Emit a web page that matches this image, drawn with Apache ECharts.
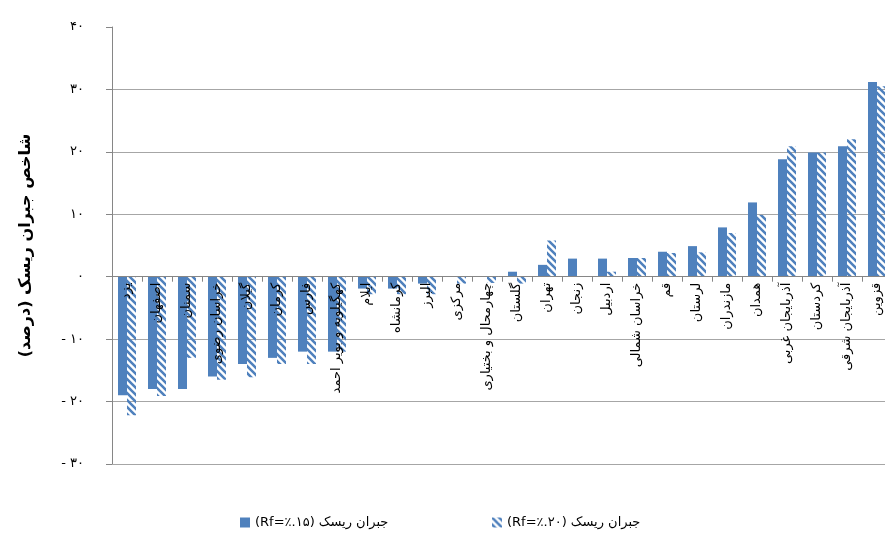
<!DOCTYPE html>
<html>
<head>
<meta charset="utf-8">
<script src="https://cdn.jsdelivr.net/npm/echarts@6/dist/echarts.min.js"></script>
<style>
  html, body { margin: 0; padding: 0; background: #fff; }
  #chart { width: 885px; height: 542px; }
</style>
</head>
<body>
<div id="chart"></div>
<script>
// provinces, sorted as in the source figure
const categories = ['یزد', 'اصفهان', 'سمنان', 'خراسان رضوی', 'گیلان', 'کرمان', 'فارس', 'کهگیلویه و بویر احمد',
  'ایلام', 'کرمانشاه', 'البرز', 'مرکزی', 'چهارمحال و بختیاری', 'گلستان', 'تهران', 'زنجان', 'اردبیل',
  'خراسان شمالی', 'قم', 'لرستان', 'مازندران', 'همدان', 'آذربایجان غربی', 'کردستان', 'آذربایجان شرقی', 'قزوین'];
const rf15 = [-19, -18, -18, -16, -14, -13, -12, -12, -1.9, -1.9, -1.1, 0, 0, 0.8, 1.9, 2.9, 2.9, 3, 4, 4.9, 7.9, 11.9, 18.8, 19.9, 20.9, 31.2];
const rf20 = [-22.2, -19.1, -13, -16.5, -16.1, -14, -14, -12, -2.8, -2.8, -2.8, -1.1, -1, -1.1, 5.8, 0, 0.8, 3, 3.8, 3.9, 7, 9.9, 20.9, 19.9, 22, 30.5];
const name15 = '(Rf=٪.۱۵) جبران ریسک';
const name20 = '(Rf=٪.۲۰) جبران ریسک';
const yTicks = { min: -30, max: 40, step: 10 };

const blue = '#4f81bd';
const gridGray = '#a6a6a6';
const faFont = 'DejaVu Sans';
const toFa = s => String(s).replace(/\d/g, d => '۰۱۲۳۴۵۶۷۸۹'[d]);

const gridTop = 27, gridH = 437;
// category axis sits on the zero line (labels included)
const zeroOffset = -gridH * (0 - yTicks.min) / (yTicks.max - yTicks.min);

// diagonal hatch for the Rf=20% series
function hatch() {
  const c = document.createElement('canvas');
  c.width = c.height = 7;
  const ctx = c.getContext('2d');
  ctx.strokeStyle = blue;
  ctx.lineWidth = 2.6;
  ctx.beginPath();
  ctx.moveTo(-1, -1); ctx.lineTo(8, 8);
  ctx.moveTo(-1, 6); ctx.lineTo(1, 8);
  ctx.moveTo(6, -1); ctx.lineTo(8, 1);
  ctx.stroke();
  return c;
}

const legendText = { fontSize: 13, color: '#000', fontFamily: faFont };

const chart = echarts.init(document.getElementById('chart'));
chart.setOption({
  animation: false,
  textStyle: { fontFamily: faFont },
  grid: { left: 112, top: gridTop, width: 780, height: gridH, outerBoundsMode: 'none' },
  legend: [
    { left: 235, bottom: 8, itemWidth: 10, itemHeight: 10, icon: 'rect', textStyle: legendText, data: [name15] },
    { left: 487, bottom: 8, itemWidth: 10, itemHeight: 10, icon: 'rect', textStyle: legendText, data: [name20] }
  ],
  xAxis: [
    {
      type: 'category',
      data: categories,
      offset: zeroOffset,
      z: 10,
      axisLine: { onZero: false, lineStyle: { color: '#868686' } },
      axisTick: { show: true, length: 5, lineStyle: { color: '#868686' } },
      axisLabel: { rotate: 90, interval: 0, margin: 6, fontSize: 13, color: '#000', fontFamily: faFont }
    },
    {
      // bare line along the bottom of the plot (-30 gridline)
      type: 'category',
      data: categories,
      position: 'top',
      offset: -gridH,
      axisLine: { show: true, onZero: false, lineStyle: { color: gridGray, width: 1 } },
      axisTick: { show: false },
      axisLabel: { show: false },
      splitLine: { show: false }
    }
  ],
  yAxis: {
    type: 'value',
    min: yTicks.min, max: yTicks.max, interval: yTicks.step,
    name: 'شاخص جبران ریسک (درصد)',
    nameLocation: 'middle',
    nameGap: 78,
    nameTextStyle: { fontSize: 16, fontWeight: 'bold', color: '#000', fontFamily: faFont },
    axisLine: { show: true, lineStyle: { color: '#868686' } },
    axisTick: { show: true, length: 6, lineStyle: { color: '#868686' } },
    axisLabel: {
      margin: 28, fontSize: 13, color: '#000',
      formatter: v => v < 0 ? '- ' + toFa(-v) : toFa(v)
    },
    splitLine: { showMaxLine: false, lineStyle: { color: gridGray, width: 1 } }
  },
  series: [
    {
      name: name15, type: 'bar', data: rf15,
      barWidth: 9, barGap: '0%',
      itemStyle: { color: blue }
    },
    {
      name: name20, type: 'bar', data: rf20,
      barWidth: 9,
      itemStyle: { color: { image: hatch(), repeat: 'repeat' } }
    }
  ]
});
</script>
</body>
</html>
